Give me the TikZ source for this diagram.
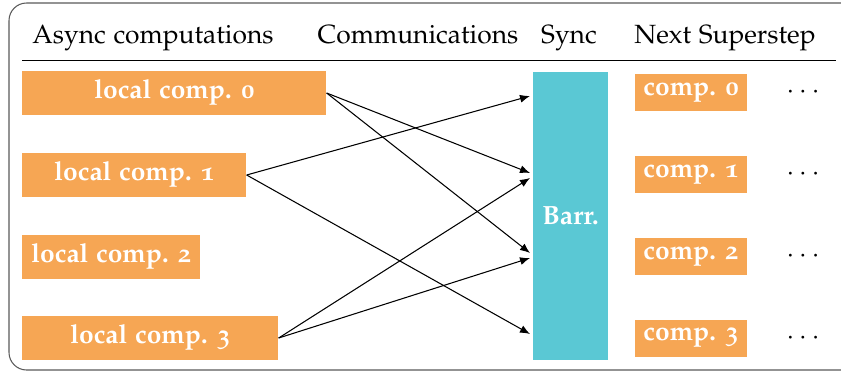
\documentclass[tikz,border=0pt]{standalone}
\usepackage[T1]{fontenc}
\usepackage[osf]{mathpazo}
\usetikzlibrary{positioning,arrows.meta}
\definecolor{comporange}{HTML}{F6A654}
\definecolor{barrcyan}{HTML}{5AC8D4}
\newcommand{\diagsize}{\fontsize{15}{18}\selectfont}
\tikzset{
  localcomp/.style={fill=comporange, text=white, font=\diagsize\bfseries, inner sep=0pt,
    minimum height=0.88cm, anchor=west},
  nextcomp/.style={fill=comporange, text=white, font=\diagsize\bfseries, inner sep=0pt,
    minimum height=0.74cm, minimum width=2.24cm},
  head/.style={anchor=base},
  msg/.style={-{Latex[length=2mm,width=1.6mm]}, line width=0.6pt}
}
\begin{document}
\begin{tikzpicture}[x=0.02cm, y=-0.02cm, font=\diagsize]
   \useasboundingbox (0,0) rectangle (841,372);
   \draw[black!65, line width=0.6pt, rounded corners=10pt] (9,3) rectangle (880,370);
   % header
   \node[head] (hasync) at (153,43) {Async computations};
   \node[head] (hcomm) at (418,43) {Communications};
   \node[head] (hsync) at (569,43) {Sync};
   \node[head] (hnext) at (725,43) {Next Superstep};
   \draw (22,60) -- (836,60);
   % local computations
   \node[localcomp, minimum width=6.08cm] (lc0) at (22,93) {local comp. 0};
   \node[localcomp, minimum width=4.48cm] (lc1) at (22,175) {local comp. 1};
   \node[localcomp, minimum width=3.56cm] (lc2) at (22,257) {local comp. 2};
   \node[localcomp, minimum width=5.12cm] (lc3) at (22,338) {local comp. 3};
   % barrier
   \node[fill=barrcyan, text=white, font=\diagsize\bfseries, inner sep=0pt,
     minimum width=1.5cm, minimum height=5.76cm] (barr) at (570.5,216) {Barr.};
   % next superstep
   \foreach \i/\y in {0/92.5,1/174.5,2/256.5,3/338} {
    \node[nextcomp] (nc\i) at (691,\y) {comp. \i};
    \node (dots\i) at (803,\y) {$\cdots$};
   }
   % messages
   \coordinate (in0) at (530,96);
   \coordinate (in1) at (530,173);
   \coordinate (in2) at (530,178);
   \coordinate (in3) at (530,253);
   \coordinate (in4) at (530,258);
   \coordinate (in5) at (530,334);
   \draw[msg] (lc0.east) -- (in1);
   \draw[msg] (lc0.east) -- (in3);
   \draw[msg] (lc1.east) -- (in0);
   \draw[msg] (lc1.east) -- (in5);
   \draw[msg] (lc3.east) -- (in2);
   \draw[msg] (lc3.east) -- (in4);
  \end{tikzpicture}
\end{document}
